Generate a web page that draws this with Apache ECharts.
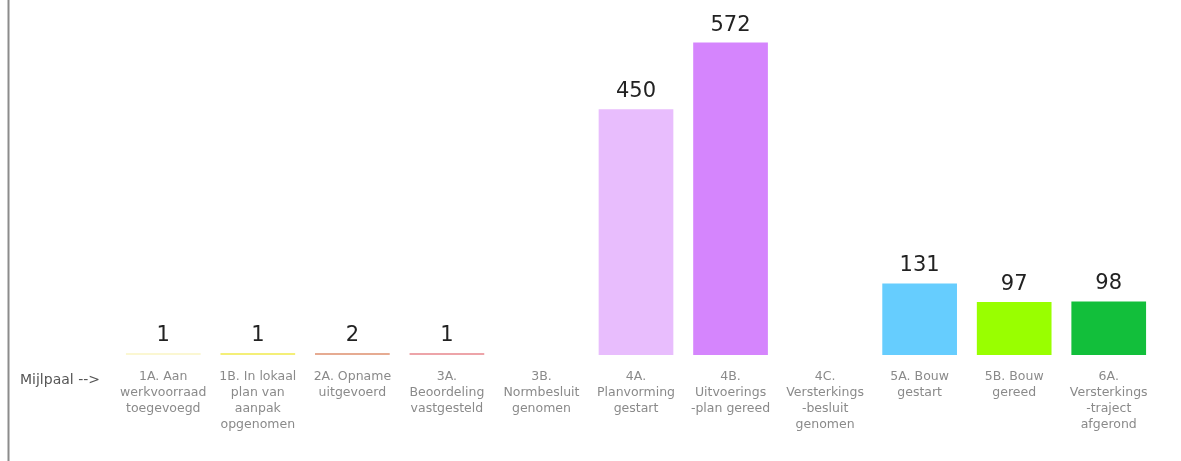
<!DOCTYPE html>
<html>
<head>
<meta charset="utf-8">
<script src="https://cdn.jsdelivr.net/npm/echarts@6/dist/echarts.min.js"></script>
<style>
  html, body { margin: 0; padding: 0; background: #fff; }
  #chart { width: 1181px; height: 461px; }
</style>
</head>
<body>
<div id="chart"></div>
<script>
  // mijlpalen
  const categories = [
    '1A. Aan\nwerkvoorraad\ntoegevoegd',
    '1B. In lokaal\nplan van\naanpak\nopgenomen',
    '2A. Opname\nuitgevoerd',
    '3A.\nBeoordeling\nvastgesteld',
    '3B.\nNormbesluit\ngenomen',
    '4A.\nPlanvorming\ngestart',
    '4B.\nUitvoerings\n-plan gereed',
    '4C.\nVersterkings\n-besluit\ngenomen',
    '5A. Bouw\ngestart',
    '5B. Bouw\ngereed',
    '6A.\nVersterkings\n-traject\nafgerond'
  ]
  const counts = [1, 1, 2, 1, null, 450, 572, null, 131, 97, 98]
  const colors = ['#fbf7d2', '#f4ef78', '#e6ab92', '#eda4a9', '#ffffff', '#e8bdfd',
    '#d585fd', '#ffffff', '#66cdfe', '#99ff00', '#12bf3b']

  const chart = echarts.init(document.getElementById('chart'))

  chart.setOption({
    animation: false,
    grid: {
      top: 0,
      left: 116,
      right: 25,
      bottom: 106,
      containLabel: false
    },
    xAxis: {
      type: 'category',
      data: categories,
      axisLine: { show: false },
      axisTick: { show: false },
      axisLabel: {
        interval: 0,
        margin: 14,
        color: '#8a8a8a',
        fontFamily: 'DejaVu Sans',
        fontSize: 12.5,
        lineHeight: 16
      }
    },
    yAxis: {
      type: 'value',
      min: 0,
      max: 650,
      show: false
    },
    series: [{
      type: 'bar',
      barWidth: '79%',
      barMinHeight: 2,
      data: counts.map((v, i) => ({ value: v, itemStyle: { color: colors[i] } })),
      label: {
        show: true,
        position: 'top',
        distance: 7,
        color: '#222',
        fontFamily: 'DejaVu Sans',
        fontSize: 21
      }
    }],
    graphic: [
      {
        type: 'line',
        shape: { x1: 8.5, y1: 0, x2: 8.5, y2: 461 },
        style: { stroke: '#8c8c8c', lineWidth: 2 }
      },
      {
        type: 'text',
        left: 20,
        top: 373,
        style: {
          text: 'Mijlpaal -->',
          fill: '#555',
          font: '14px "DejaVu Sans"'
        }
      }
    ]
  })
</script>
</body>
</html>
